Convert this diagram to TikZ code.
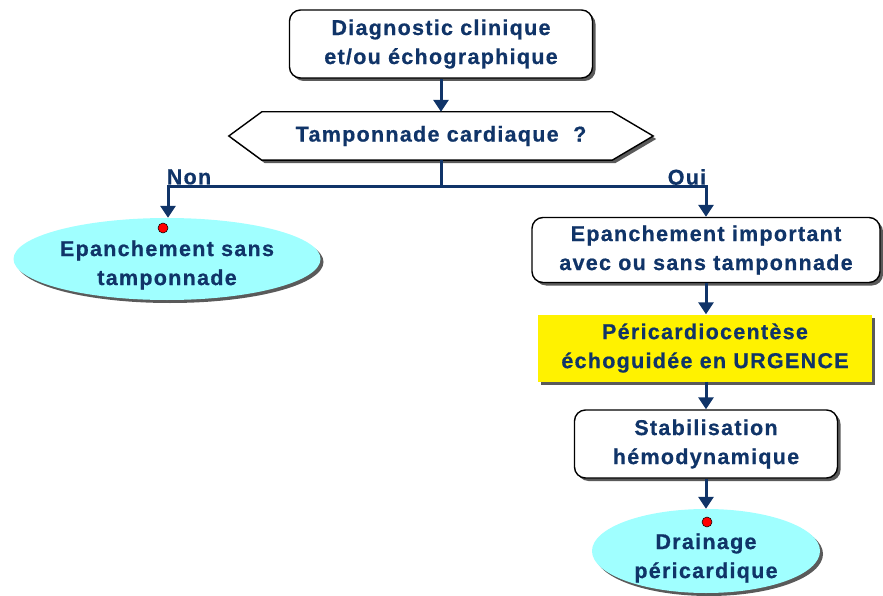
\documentclass[tikz,border=0pt]{standalone}
\usepackage{fontspec}
\setmainfont{Liberation Sans}[LetterSpace=6, BoldFeatures={FakeBold=0.6}]
\usetikzlibrary{arrows.meta,shapes.geometric,shadows,calc}
\definecolor{navy}{RGB}{16,52,104}
\definecolor{lcyan}{RGB}{160,255,255}
\definecolor{shadowgray}{RGB}{90,90,90}
\tikzset{
  txt/.style={font=\fontsize{21.5}{29}\selectfont\bfseries, text=navy, align=center},
  shad/.style={drop shadow={shadow xshift=3pt, shadow yshift=-3pt, fill=shadowgray, opacity=1}},
  rbox/.style={txt, draw=black, line width=1.4pt, rounded corners=11pt, fill=white, shad, inner sep=0pt},
  ybox/.style={txt, fill=yellow, shad, inner sep=0pt},
  ell/.style={ellipse, fill=lcyan, shad, inner sep=0pt},
  conn/.style={navy, line width=3pt},
  arr/.style={conn, -{Triangle[width=15pt,length=12pt]}},
  dot/.style={circle, fill=red, draw=black, line width=0.5pt, minimum size=10pt, inner sep=0pt},
}
\begin{document}
\begin{tikzpicture}[x=1pt,y=-1pt]
\useasboundingbox (0,0) rectangle (883,596);
% nodes
\node[rbox, minimum width=303pt, minimum height=68pt] (diag) at (441,44) {Diagnostic clinique\\et/ou échographique};
\node[minimum width=424pt, minimum height=48pt, inner sep=0pt] (q) at (441,136) {};
\fill[shadowgray] ($(q.west)+(3,3)$) -- ($(q.north west)+(36,3)$) -- ($(q.north east)+(-38,3)$) -- ($(q.east)+(3,3)$) -- ($(q.south east)+(-38,3)$) -- ($(q.south west)+(36,3)$) -- cycle;
\draw[black, line width=1.4pt, fill=white] (q.west) -- ($(q.north west)+(33,0)$) -- ($(q.north east)+(-41,0)$) -- (q.east) -- ($(q.south east)+(-41,0)$) -- ($(q.south west)+(33,0)$) -- cycle;
\node[txt, inner sep=0pt] (qt) at (q.center) {Tamponnade cardiaque ~?};
\coordinate (split) at (441,187);
\node[ell, minimum width=307pt, minimum height=82pt] (e1) at (167,259) {};
\node[txt] (e1t) at (167,265) {Epanchement sans\\tamponnade};
\node[rbox, minimum width=348pt, minimum height=65pt] (imp) at (706,250) {Epanchement important\\avec ou sans tamponnade};
\node[ybox, minimum width=334pt, minimum height=67pt] (peri) at (705,348) {Péricardiocentèse\\échoguidée en URGENCE};
\node[rbox, minimum width=263pt, minimum height=68pt] (stab) at (706,444) {Stabilisation\\hémodynamique};
\node[ell, minimum width=228pt, minimum height=84pt] (drain) at (706,551) {};
\node[txt] (draint) at (706,558) {Drainage\\péricardique};
\node[txt] (non) at (189,177) {Non};
\node[txt] (oui) at (687,177) {Oui};
% connectors
\draw[arr] (diag.south) -- (q.north);
\draw[conn] (q.south) -- (split);
\draw[arr] (split) -| ([xshift=1pt]e1.north);
\draw[arr] (split) -| (imp.north);
\draw[arr] (imp.south) -- (imp.south |- peri.north);
\draw[arr] (imp.south |- peri.south) -- (stab.north);
\draw[arr] (stab.south) -- (drain.north);
% red dots
\node[dot] (d1) at (163,228) {};
\node[dot] (d2) at (707,522) {};
\end{tikzpicture}
\end{document}
